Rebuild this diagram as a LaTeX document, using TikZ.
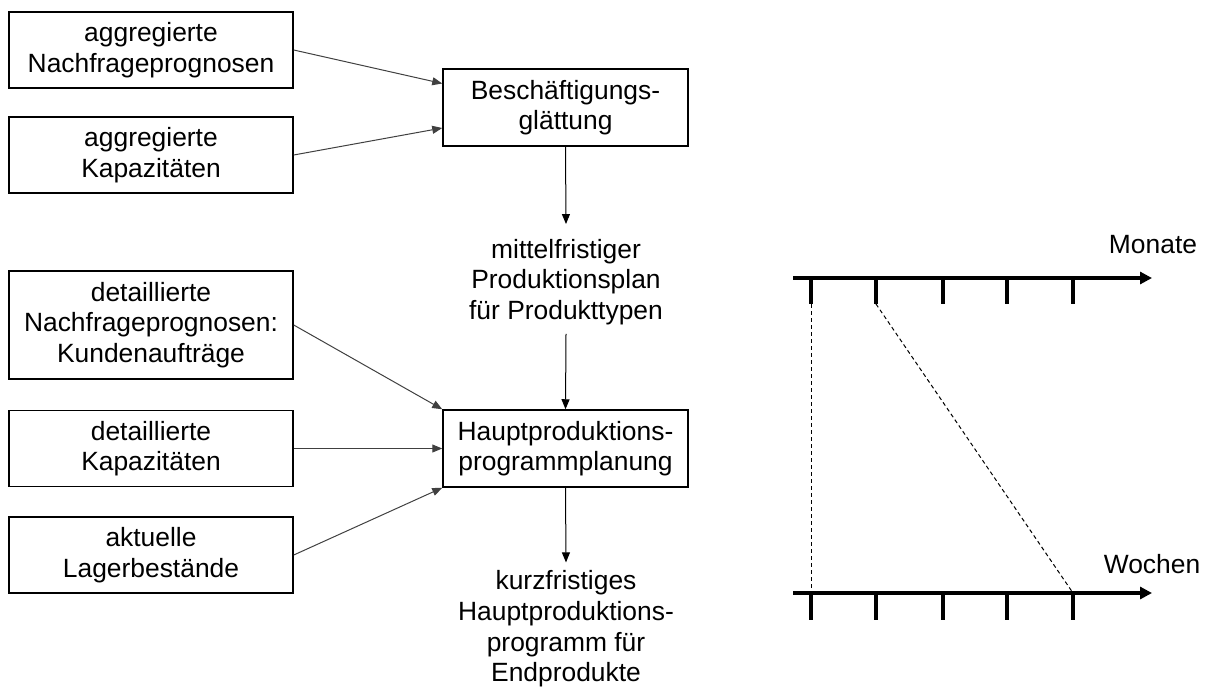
\documentclass[tikz,border=0pt]{standalone}
\usepackage{fontspec}
\setmainfont{Liberation Sans}
\usetikzlibrary{shapes,arrows,arrows.meta}

\begin{document}
\begin{tikzpicture}[x=0.5pt, y=-0.5pt,
  every node/.style={font=\fontsize{13.2}{15.3}\selectfont, align=center},
  box/.style={draw, line width=0.75pt, inner sep=0pt, fill=white},
  inbox/.style={box, minimum width=142pt, minimum height=38pt},
  procbox/.style={box, minimum width=122.5pt, minimum height=38.5pt},
  feed/.style={-{Triangle[length=5pt,width=4pt]}, line width=0.5pt, black!75},
  flow/.style={-{Triangle[length=5pt,width=4pt]}, line width=0.5pt},
  axis/.style={-{Triangle[length=6pt,width=6pt]}, line width=2pt},
  tickmark/.style={line width=2pt},
  link/.style={dash pattern=on 2pt off 1.5pt, line width=0.5pt}]
  \useasboundingbox (0,0) rectangle (1210,686);

  % Input boxes
  \node[inbox] (aggnach) at (151,50) {aggregierte\\Nachfrageprognosen};
  \node[inbox] (aggkap) at (151,155) {aggregierte\\Kapazit\"aten};
  \node[inbox, minimum height=54pt] (detnach) at (151,325) {detaillierte\\Nachfrageprognosen:\\Kundenauftr\"age};
  \node[inbox] (detkap) at (151,448.5) {detaillierte\\Kapazit\"aten};
  \node[inbox] (lager) at (151,555) {aktuelle\\Lagerbest\"ande};

  % Planning steps
  \node[procbox] (besch) at (565.5,107.5) {Besch\"aftigungs-\\gl\"attung};
  \node[procbox] (haupt) at (565.5,448.5) {Hauptproduktions-\\programmplanung};

  % Results
  \node (mittel) at (566,282) {mittelfristiger\\Produktionsplan\\f\"ur Produkttypen};
  \node[inner sep=2pt] (kurz) at (566,629) {kurzfristiges\\Hauptproduktions-\\programm f\"ur\\Endprodukte};

  % Arrows
  \draw[feed] (aggnach.east) -- ([yshift=12pt]besch.west);
  \draw[feed] (aggkap.east) -- ([yshift=-10.25pt]besch.west);
  \draw[feed] (detnach.east) -- (haupt.north west);
  \draw[feed] (detkap.east) -- (haupt.west);
  \draw[feed] (lager.east) -- (haupt.south west);

  \draw[flow] (besch.south) -- ([yshift=4pt]mittel.north);
  \draw[flow] ([yshift=-1pt]mittel.south) -- (haupt.north);
  \draw[flow] (haupt.south) -- ([yshift=2pt]kurz.north);

  % Time axes
  \coordinate (mstart) at (793,278);
  \coordinate (mend) at (1152,278);
  \coordinate (wstart) at (793,593);
  \coordinate (wend) at (1152,593);
  \draw[axis] (mstart) -- (mend);
  \draw[axis] (wstart) -- (wend);
  \node (monate) at (1153,245) {Monate};
  \node (wochen) at (1152,564) {Wochen};

  \foreach \x [count=\i] in {811,876,943,1007,1073} {
    \coordinate (m\i) at (\x,304);
    \coordinate (w\i) at (\x,593);
    \draw[tickmark] (\x,278) -- (m\i);
    \draw[tickmark] (w\i) -- (\x,620);
  }

  % Links between the axes
  \draw[link] (m1) -- (w1);
  \draw[link] (m2) -- (w5);
\end{tikzpicture}
\end{document}
